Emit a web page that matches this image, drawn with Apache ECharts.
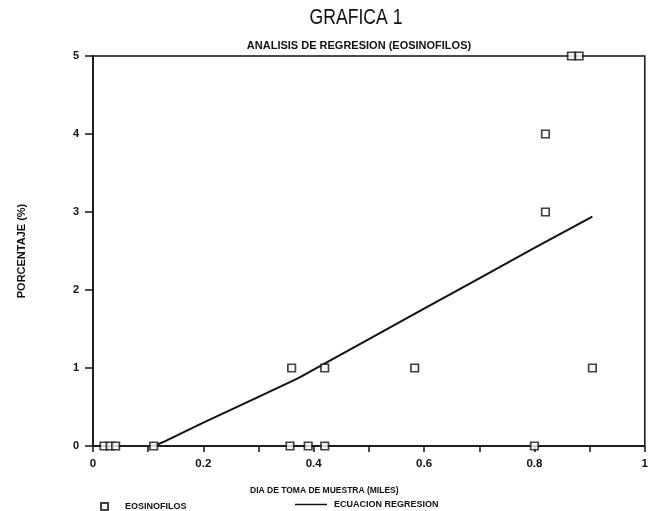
<!DOCTYPE html>
<html>
<head>
<meta charset="utf-8">
<script src="https://cdn.jsdelivr.net/npm/echarts@6/dist/echarts.min.js"></script>
<style>html,body{margin:0;padding:0;background:#fff}#c{width:651px;height:511px}</style>
</head>
<body>
<div id="c"></div>
<script>
const titleText = 'GRAFICA 1';
const subtitleText = 'ANALISIS DE REGRESION (EOSINOFILOS)';
const xName = 'DIA DE TOMA DE MUESTRA (MILES)';
const yName = 'PORCENTAJE (%)';
const scatterName = 'EOSINOFILOS';
const lineName = 'ECUACION REGRESION';
const xTickLabels = {0:'0', 0.2:'0.2', 0.4:'0.4', 0.6:'0.6', 0.8:'0.8', 1:'1'};
const yTickLabels = ['0','1','2','3','4','5'];

const eosX = [0.02, 0.031, 0.041, 0.11, 0.357, 0.39, 0.42, 0.80, 0.36, 0.42, 0.583, 0.905, 0.82, 0.82, 0.867, 0.881];
const eosY = [0,    0,     0,     0,    0,     0,    0,    0,    1,    1,    1,     1,     3,    4,    5,     5];

const regX = [0.11, 0.13, 0.2, 0.3, 0.372, 0.5, 0.6, 0.7, 0.8, 0.905];
const regY = [0, 0.06, 0.3, 0.63, 0.87, 1.37, 1.76, 2.15, 2.54, 2.94];

const FONT = '"Liberation Sans", Arial, sans-serif';
const INK = '#111';

const chart = echarts.init(document.getElementById('c'), null, {renderer:'canvas'});
chart.setOption({
  backgroundColor: '#fff',
  animation: false,
  textStyle: {fontFamily: FONT, color: INK},
  title: [
    {text: subtitleText, left: 354, top: 35, textAlign: 'center',
     textStyle: {fontFamily: FONT, fontSize: 11, fontWeight: 'bold', color: INK}}
  ],
  legend: [
    {data: [{name: scatterName, icon: 'rect'}], left: 95, top: 497, itemWidth: 7, itemHeight: 7, itemGap: 5,
     textStyle: {fontFamily: FONT, fontSize: 9, fontWeight: 'bold', color: INK, padding: [0,0,0,12]},
     selectedMode: false},
    {data: [{name: lineName, icon: 'rect'}], left: 290, top: 495, itemWidth: 32, itemHeight: 1.5,
     textStyle: {fontFamily: FONT, fontSize: 9, fontWeight: 'bold', color: INK, padding: [0,0,0,2]},
     selectedMode: false}
  ],
  grid: {left: 93, right: 2, top: 56, bottom: 65, show: true, borderColor: INK, borderWidth: 1.5, backgroundColor: 'transparent'},
  xAxis: {
    type: 'value', min: 0, max: 1, interval: 0.1,
    axisLine: {show: true, onZero: false, lineStyle: {color: INK, width: 1.5}},
    axisTick: {show: true, inside: false, length: 6, lineStyle: {color: INK, width: 1.5}},
    splitLine: {show: false},
    axisLabel: {
      margin: 12, fontFamily: FONT, fontSize: 11.5, fontWeight: 'bold', color: INK,
      formatter: function (v) { const k = Math.round(v * 10) / 10; return xTickLabels[k] !== undefined ? xTickLabels[k] : ''; }
    }
  },
  yAxis: {
    type: 'value', min: 0, max: 5, interval: 1,
    name: yName, nameLocation: 'middle', nameGap: 66, nameRotate: 90,
    nameTextStyle: {fontFamily: FONT, fontSize: 11, fontWeight: 'bold', color: INK},
    axisLine: {show: true, lineStyle: {color: INK, width: 1.5}},
    axisTick: {show: true, length: 8, lineStyle: {color: INK, width: 1.5}},
    splitLine: {show: false},
    axisLabel: {margin: 14, fontFamily: FONT, fontSize: 11, fontWeight: 'bold', color: INK,
      formatter: function (v) { return yTickLabels[Math.round(v)]; }}
  },
  graphic: [
    {type: 'text', x: 356, y: 7, scaleX: 0.8, originX: 0, originY: 0,
     style: {text: titleText, font: '22px ' + FONT, fill: INK, textAlign: 'center'}},
    {type: 'text', left: 250, top: 486, style: {text: xName, font: 'bold 8.5px ' + FONT, fill: INK}}
  ],
  series: [
    {
      name: lineName, type: 'line', data: regX.map((x, i) => [x, regY[i]]),
      showSymbol: false, symbol: 'none', smooth: false, clip: false,
      lineStyle: {color: INK, width: 2}, itemStyle: {color: INK}, z: 2
    },
    {
      name: scatterName, type: 'scatter', data: eosX.map((x, i) => [x, eosY[i]]),
      symbol: 'rect', symbolSize: 7.5, clip: false,
      itemStyle: {color: '#fff', borderColor: INK, borderWidth: 1.7}, z: 3
    }
  ]
});
</script>
</body>
</html>
